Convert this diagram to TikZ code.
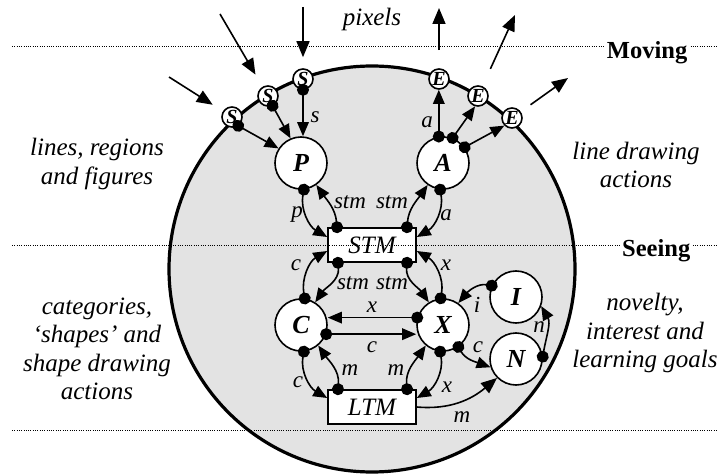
\documentclass[tikz,border=0pt]{standalone}
\usepackage{fontspec}
\setmainfont{Liberation Serif}
\usetikzlibrary{arrows.meta}
\begin{document}
\begin{tikzpicture}[x=1pt,y=1pt,
  proc/.style={circle, draw, fill=white, line width=1.6pt, minimum size=52pt, inner sep=0pt,
    font=\fontsize{26}{26}\selectfont\bfseries\itshape},
  port/.style={circle, draw, fill=white, line width=1.6pt, minimum size=20pt, inner sep=0pt,
    font=\fontsize{20}{20}\selectfont\bfseries\itshape},
  store/.style={rectangle, draw, fill=white, line width=1.6pt, minimum width=88pt,
    minimum height=34pt, inner sep=0pt, font=\fontsize{25}{25}\selectfont\itshape},
  lab/.style={font=\fontsize{23}{23}\selectfont\itshape, inner sep=0pt},
  note/.style={align=center, inner sep=0pt, font=\fontsize{25}{28.5}\selectfont\itshape},
  band/.style={font=\fontsize{24.5}{24.5}\selectfont\bfseries, fill=white, inner sep=1.5pt},
  divider/.style={dash pattern=on 1pt off 1.3pt, line width=1pt},
  flow/.style={line width=1.6pt, -{Triangle[length=16pt,width=13pt]}},
  dflow/.style={line width=1.6pt, shorten <=-6pt,
    {Circle[length=12pt]}-{Triangle[length=14pt,width=11.5pt]}}]

\useasboundingbox (0,0) rectangle (718,475);

% the mind: one large shaded disc
\coordinate (O) at (372,206);
\draw[line width=3.2pt, fill=black!11] (O) circle[radius=203pt];

% processes
\node[proc] (P) at (301,312) {P};
\node[proc] (A) at (443,312) {A};
\node[proc] (C) at (301,150) {C};
\node[proc] (X) at (443,150) {X};
\node[proc] (I) at (516,178) {I};
\node[proc] (N) at (516,116) {N};

% memories
\node[store] (STM) at (372,230) {STM};
\node[store] (LTM) at (372,68) {LTM};

% sensors and effectors on the rim
\node[port] (S1) at (303,396) {S};
\node[port] (S2) at (268,379) {S};
\node[port] (S3) at (232,358) {S};
\node[port] (E1) at (439,396) {E};
\node[port] (E2) at (478,379) {E};
\node[port] (E3) at (512,357) {E};

% input from and output to the world
\coordinate (s1src) at (303,468);
\coordinate (s2src) at (220,461);
\coordinate (s3src) at (169,398);
\coordinate (e1dst) at (439,467);
\coordinate (e2dst) at (515,460);
\coordinate (e3dst) at (568,397);
\draw[flow, shorten >=11pt] (s1src) -- (S1);
\draw[flow, shorten >=14pt] (s2src) -- (S2);
\draw[flow, shorten >=12pt] (s3src) -- (S3);
\draw[flow, shorten <=18pt] (E1) -- (e1dst);
\draw[flow, shorten <=19pt] (E2) -- (e2dst);
\draw[flow, shorten <=12pt] (E3) -- (e3dst);

% sensors to perception, action to effectors
\draw[dflow] (S1.south) -- (S1.south |- P.north);
\draw[dflow] (S2.-65) -- (P.113);
\draw[dflow] (S3.-55) -- (P.147);
\draw[dflow] (A.99) -- (A.99 |- E1.south);
\draw[dflow] (A.69) -- (E2.254);
\draw[dflow] (A.36) -- (E3.225);

% perception / action <-> short term memory
\draw[dflow] (P.-84) to[out=-100,in=150] ([yshift=8pt]STM.west);
\draw[dflow] ([xshift=-35pt]STM.north) to[out=95,in=-55] (P.-55);
\draw[dflow] (A.-96) to[out=-80,in=30] ([yshift=8pt]STM.east);
\draw[dflow] ([xshift=35pt]STM.north) to[out=85,in=-125] (A.-125);

% categorisation / expectation <-> short term memory
\draw[dflow] (C.82) to[out=100,in=-150] ([yshift=-6pt]STM.west);
\draw[dflow] ([xshift=-34pt]STM.south) to[out=-85,in=55] (C.58);
\draw[dflow] (X.95) to[out=80,in=-30] ([yshift=-6pt]STM.east);
\draw[dflow] ([xshift=35pt]STM.south) to[out=-95,in=125] (X.122);

% between C and X
\draw[dflow] (X.164) -- (X.164 -| C.east);
\draw[dflow] (C.-20) -- (C.-20 -| X.west);

% long term memory
\draw[dflow] (C.-84) to[out=-100,in=150] ([yshift=9pt]LTM.west);
\draw[dflow] ([xshift=-34pt]LTM.north) to[out=85,in=-55] (C.-50);
\draw[dflow] ([xshift=35pt]LTM.north) to[out=95,in=-125] (X.-130);
\draw[dflow] (X.-96) to[out=-80,in=30] ([yshift=9pt]LTM.east);

% novelty and interest
\draw[dflow] (X.-55) to[out=-60,in=160] (N.-162);
\draw[flow] (LTM.east) to[out=-5,in=-140] (N.-135);
\draw[dflow] (I.155) to[out=170,in=50] (X.55);
\draw[dflow] (N.5) to[out=80,in=-60] (I.-20);

% connector labels
\node[lab] (ls) at (315,358) {s};
\node[lab] (la1) at (427,353) {a};
\node[lab] (lp) at (297,260) {p};
\node[lab] (lstm1) at (350,273) {stm};
\node[lab] (lstm2) at (392,273) {stm};
\node[lab] (la2) at (446,260) {a};
\node[lab] (lc1) at (296,210) {c};
\node[lab] (lstm3) at (353,192) {stm};
\node[lab] (lstm4) at (392,192) {stm};
\node[lab] (lx1) at (446,210) {x};
\node[lab] (lx2) at (372,168) {x};
\node[lab] (lc2) at (372,128) {c};
\node[lab] (lc3) at (298,93) {c};
\node[lab] (lm1) at (350,105) {m};
\node[lab] (lm2) at (396,105) {m};
\node[lab] (lx3) at (447,88) {x};
\node[lab] (lc4) at (478,128) {c};
\node[lab] (lm3) at (462,58) {m};
\node[lab] (li) at (477,170) {i};
\node[lab] (ln) at (539,148) {n};

% descriptions around the disc
\node[note] (pix) at (372,456) {pixels};
\node[note] (tl) at (97,311) {lines, regions\\and figures};
\node[note] (tr) at (636,310) {line drawing\\actions};
\node[note] (bl) at (97,126) {categories,\\‘shapes’ and\\shape drawing\\actions};
\node[note] (br) at (645,142) {novelty,\\interest and\\learning goals};

% levels
\draw[divider] (12,428) -- (716,428);
\draw[divider] (12,230) -- (716,230);
\draw[divider] (12,45) -- (716,45);
\node[band, anchor=base east] (mov) at (689,416) {Moving};
\node[band, anchor=base east] (see) at (692,219) {Seeing};
\end{tikzpicture}
\end{document}
